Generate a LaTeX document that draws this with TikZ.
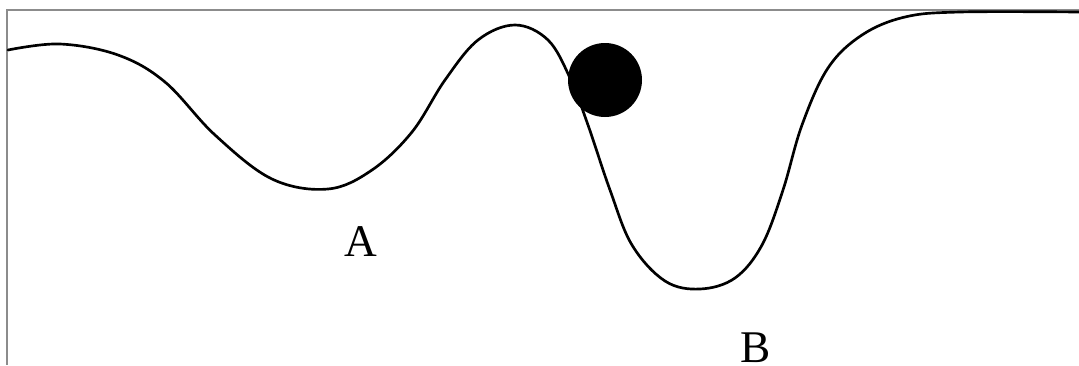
\documentclass[tikz,border=0pt]{standalone}
\usepackage{fontspec}
\setmainfont{Liberation Serif}
\begin{document}
\begin{tikzpicture}[x=0.75pt,y=-0.75pt,
  frame/.style={draw=black!45,line width=1.5pt},
  landscape/.style={draw=black,line width=2pt,line cap=round,line join=round},
  ballstyle/.style={circle,fill=black,inner sep=0pt,minimum size=55.5pt},
  letter/.style={font=\fontsize{34}{34}\selectfont,inner sep=0pt}]
\useasboundingbox (0,0) rectangle (1079,365);
\fill[white] (0,0) rectangle (1079,365);
\draw[frame] (1079,9.5) -- (7,9.5) -- (7,365);
\draw[landscape] plot[smooth,tension=0.6] coordinates {
 (8,50) (60,44) (118,55) (165,82) (215,135) (272,179)
 (328,189) (372,170) (412,132) (445,80) (478,40) (515,25)
 (548,40) (570,78) (588,125) (610,190) (632,245) (665,281) (700,289)
 (735,278) (762,245) (783,190) (802,125) (828,68) (862,35) (905,17)
 (960,12) (1079,12)};
\node[ballstyle] (ball) at (605,80) {};
\node[letter] (A) at (361,242) {A};
\node[letter,anchor=base] (B) at (756,362) {B};
\end{tikzpicture}
\end{document}
